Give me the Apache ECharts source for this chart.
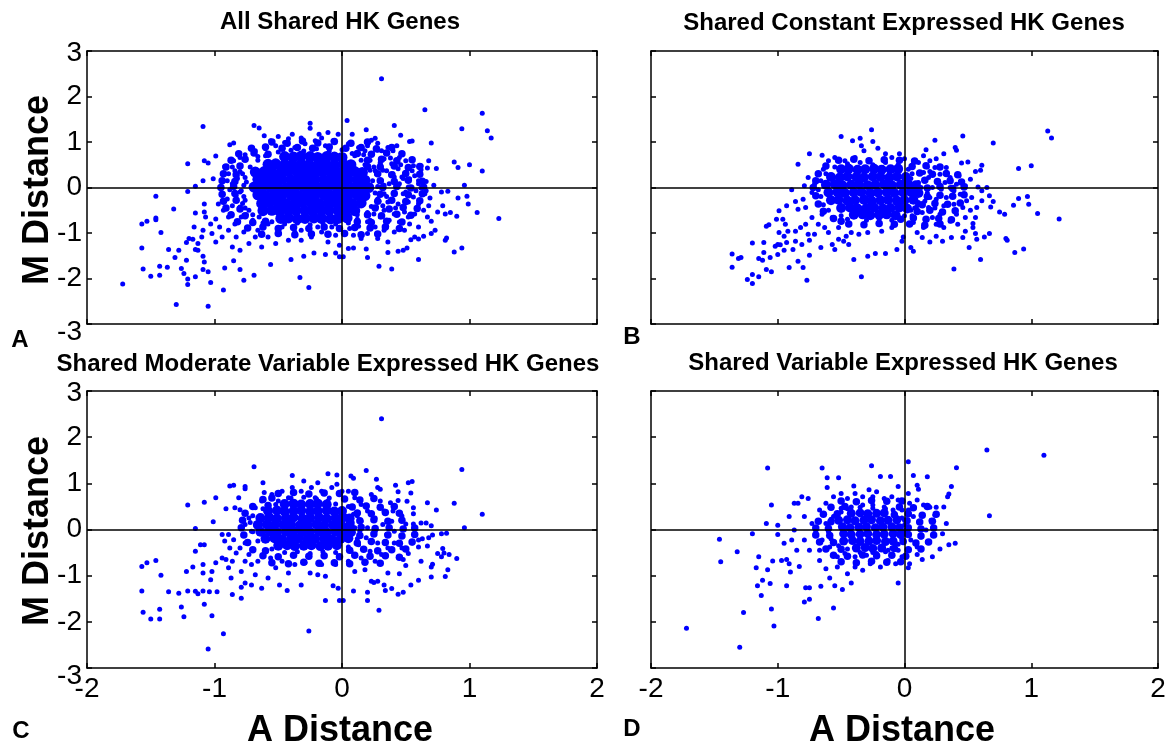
<!DOCTYPE html>
<html><head><meta charset="utf-8">
<script src="https://cdn.jsdelivr.net/npm/echarts@6/dist/echarts.min.js"></script>
<style>html,body{margin:0;padding:0;background:#fff}#c{width:1169px;height:750px}</style>
</head><body><div id="c"></div>
<script>
const panelTitles = ['All Shared HK Genes','Shared Constant Expressed HK Genes','Shared Moderate Variable Expressed HK Genes','Shared Variable Expressed HK Genes'];
const panelLetters = ['A','B','C','D'];
const xTicks = [-2,-1,0,1,2];
const xTickLabels = ['-2','-1','0','1','2'];
const yTicks = [-3,-2,-1,0,1,2,3];
const yTickLabels = ['-3','-2','-1','0','1','2','3'];
const xName = 'A Distance';
const yName = 'M Distance';

// solid core of each cloud (estimated)
const coreA = [[-0.45,0.68],[-0.38,0.67],[-0.32,0.69],[-0.25,0.68],[-0.19,0.66],[-0.12,0.68],[-0.06,0.67],[0.0,0.66],
[-0.58,0.51],[-0.52,0.52],[-0.45,0.5],[-0.39,0.51],[-0.32,0.52],[-0.26,0.5],[-0.19,0.51],[-0.13,0.52],[-0.06,0.5],[0.01,0.51],[0.07,0.5],
[-0.68,0.34],[-0.61,0.35],[-0.55,0.33],[-0.48,0.34],[-0.42,0.35],[-0.35,0.34],[-0.29,0.33],[-0.22,0.34],[-0.16,0.35],[-0.09,0.34],[-0.03,0.33],[0.04,0.34],[0.1,0.35],[0.16,0.33],
[-0.66,0.18],[-0.6,0.16],[-0.53,0.17],[-0.47,0.18],[-0.4,0.17],[-0.34,0.16],[-0.27,0.17],[-0.21,0.18],[-0.14,0.17],[-0.08,0.16],[-0.01,0.17],[0.05,0.18],[0.12,0.17],[0.18,0.16],
[-0.69,0.01],[-0.63,-0.01],[-0.56,0.0],[-0.5,0.01],[-0.43,0.0],[-0.37,-0.01],[-0.3,0.0],[-0.24,0.01],[-0.17,0.0],[-0.11,-0.01],[-0.04,0.0],[0.02,0.01],[0.09,0.0],[0.15,-0.01],[0.21,0.0],
[-0.66,-0.16],[-0.6,-0.18],[-0.53,-0.17],[-0.47,-0.16],[-0.4,-0.17],[-0.34,-0.18],[-0.27,-0.17],[-0.21,-0.16],[-0.14,-0.17],[-0.08,-0.18],[-0.01,-0.17],[0.05,-0.16],[0.12,-0.17],[0.18,-0.18],
[-0.63,-0.35],[-0.57,-0.33],[-0.5,-0.34],[-0.44,-0.35],[-0.37,-0.34],[-0.31,-0.33],[-0.24,-0.34],[-0.18,-0.35],[-0.11,-0.34],[-0.05,-0.33],[0.02,-0.34],[0.08,-0.35],[0.15,-0.34],
[-0.62,-0.51],[-0.55,-0.5],[-0.49,-0.52],[-0.42,-0.51],[-0.36,-0.5],[-0.29,-0.51],[-0.23,-0.52],[-0.16,-0.51],[-0.1,-0.5],[-0.03,-0.51],[0.03,-0.52],[0.1,-0.51],
[-0.48,-0.68],[-0.42,-0.67],[-0.35,-0.69],[-0.29,-0.68],[-0.22,-0.67],[-0.16,-0.68],[-0.09,-0.69],[-0.03,-0.68],[0.04,-0.67]];

// dense band around the core (estimated)
const midA = [[-0.55,1.0],[-0.43,0.97],[-0.31,1.02],[-0.19,0.98],[-0.06,1.01],[0.07,0.97],[0.2,1.0],
[-0.71,0.86],[-0.6,0.89],[-0.47,0.86],[-0.35,0.88],[-0.23,0.86],[-0.1,0.89],[0.03,0.86],[0.15,0.88],[0.27,0.85],[0.39,0.88],
[-0.81,0.74],[-0.69,0.76],[-0.58,0.73],[0.12,0.75],[0.23,0.73],[0.35,0.76],[0.47,0.74],
[-0.87,0.6],[-0.76,0.62],[0.2,0.6],[0.31,0.62],[0.43,0.59],[0.55,0.61],
[-0.91,0.45],[-0.8,0.47],[0.2,0.46],[0.3,0.45],[0.41,0.47],[0.52,0.44],[0.61,0.46],
[-0.93,0.3],[-0.83,0.28],[0.28,0.3],[0.39,0.28],[0.5,0.31],[0.61,0.29],
[-0.94,0.15],[-0.84,0.13],[0.3,0.15],[0.41,0.13],[0.52,0.16],[0.63,0.14],
[-0.95,0.0],[-0.85,0.02],[0.32,0.0],[0.43,0.02],[0.54,-0.01],[0.64,0.01],
[-0.94,-0.15],[-0.84,-0.13],[0.3,-0.15],[0.41,-0.13],[0.52,-0.16],[0.63,-0.14],
[-0.93,-0.3],[-0.83,-0.28],[0.28,-0.3],[0.39,-0.28],[0.5,-0.31],[0.61,-0.29],
[-0.91,-0.45],[-0.8,-0.47],[0.26,-0.45],[0.37,-0.47],[0.48,-0.44],[0.59,-0.46],
[-0.87,-0.6],[-0.76,-0.62],[0.2,-0.6],[0.31,-0.62],[0.43,-0.59],[0.54,-0.61],
[-0.82,-0.75],[-0.7,-0.77],[-0.6,-0.74],[0.12,-0.75],[0.23,-0.77],[0.35,-0.74],[0.47,-0.76],
[-0.74,-0.89],[-0.62,-0.87],[-0.5,-0.9],[-0.38,-0.88],[-0.26,-0.9],[-0.14,-0.87],[-0.02,-0.9],[0.1,-0.88],[0.22,-0.89],[0.34,-0.87],[0.45,-0.9],
[-0.63,-1.03],[-0.5,-1.01],[-0.37,-1.04],[-0.24,-1.02],[-0.11,-1.03],[0.02,-1.01],[0.15,-1.04],[0.28,-1.02]];

const ptsA = [[-1.09,1.34],[-1.21,0.52],[-1.08,0.59],[-1.05,0.54],[-0.99,0.69],[-1.46,-0.19],[-1.32,-0.47],[-1.21,-0.09],[-1.15,0.03],[-1.09,0.15],[-1.01,0.19],[-1.57,-0.8],[-1.53,-0.74],[-1.46,-0.67],[-1.46,-0.71],[-1.42,-0.99],[-1.57,-1.33],[-1.36,-1.36],[-1.37,-1.75],[-1.28,-1.38],[-1.31,-1.54],[-1.56,-1.79],[-1.5,-1.95],[-1.43,-1.93],[-1.43,-1.73],[-1.72,-2.12],[-1.3,-2.57],[-1.05,-2.61],[-1.26,-1.78],[-1.24,-1.89],[-1.21,-2.01],[-1.21,-2.13],[-1.22,-1.6],[-1.15,-1.36],[-1.15,-1.96],[-1.09,-1.8],[-1.09,-1.51],[-1.13,-1.38],[-1.08,-1.64],[-1.05,-1.85],[-1.03,-2.09],[-0.93,-2.25],
[-0.92,-1.77],[-0.85,-1.61],[-0.8,-1.8],[-0.77,-2.04],[-0.69,-1.93],[-0.56,-1.69],[-0.4,-1.58],[-0.33,-1.98],[-0.26,-2.2],[-0.3,-1.51],[-0.22,-1.44],[-0.13,-1.47],[-0.05,-1.44],[-0.02,-1.52],[-1.22,-1.21],[-1.2,-1.12],[-1.17,-1.14],[-1.16,-0.87],[-1.15,-0.56],[-1.08,-0.36],[-1.08,-0.54],[-1.13,-1.23],[-1.09,-0.94],[-0.88,0.94],[-0.85,0.98],[-0.69,1.36],[-0.65,1.31],[-0.5,1.12],[-0.39,1.17],[-0.25,1.41],[-0.25,1.3],[-0.11,1.21],[-0.03,1.17],[-0.18,1.17],[-0.32,1.09],[-0.61,1.14],
[-0.92,0.46],[-0.89,0.3],[-0.85,0.59],[-0.84,0.37],[-0.8,0.66],[-0.76,0.72],[-0.94,-0.14],[-0.9,-0.25],[-0.97,-0.36],[-0.93,-0.5],[-0.89,-0.65],[-0.99,-0.69],[-0.96,-0.87],[-1.02,-1.01],[-0.99,-1.2],[-0.94,-1.09],[-0.89,-0.94],[-0.84,-0.8],[-0.79,-0.65],[-0.83,-1.09],[-0.77,-0.98],[-0.86,-1.31],[-0.8,-1.38],[-0.73,-1.23],[-0.68,-1.09],[-0.63,-1.31],[-0.66,-0.94],[-0.58,-1.09],[-0.52,-1.23],[-0.49,-1.01],[-0.42,-1.16],[-0.37,-0.98],[-0.32,-1.16],[-0.24,-1.09],[-0.16,-0.98],[-0.11,-1.2],[-0.05,-1.05],[-0.02,-1.27],[-1.07,-0.65],[-1.03,-0.8],[-1.1,-1.09],[-0.79,-0.07],[-0.76,-0.28],[-0.8,-0.43],[-0.73,-0.5],[-0.72,0.45],[-0.75,0.12],[-0.68,0.81],[-0.6,0.85],[-0.52,0.92],[-0.45,0.99],[-0.37,0.88],[-0.29,0.96],[-0.21,1.03],[-0.13,0.92],[-0.07,1.03],[-0.56,1.03],[-0.42,1.07],[-0.16,1.09],[-0.66,0.68],[-0.32,-0.94],[-0.47,-0.87],[-0.19,-0.87],[-0.08,-0.87],[-0.58,-0.8],
[-0.82,0.2],[-0.86,0.08],[-0.78,0.3],[-0.88,-0.05],[-0.83,-0.18],[-0.78,-0.35],[-0.86,-0.4],[-0.75,-0.6],[-0.7,-0.72],[-0.62,-0.78],[-0.9,0.15],[-0.95,0.0],
[0.31,2.39],[0.65,1.71],[1.1,1.63],[1.14,1.25],[1.17,1.09],[0.94,1.29],[0.04,1.47],[0.19,1.27],[0.41,1.36],[0.46,1.15],[0.53,1.01],[0.55,1.02],[0.7,0.98],[0.08,1.17],[0.23,1.04],[0.26,1.08],[0.88,0.56],[0.91,0.44],[1.0,0.5],[1.1,0.36],[0.96,0.05],[0.74,0.42],[0.68,0.59],[0.62,0.48],[1.23,-0.68],[1.06,-0.55],[0.99,-0.36],[0.98,-0.19],[0.91,-0.23],[0.9,-0.63],[0.88,-1.42],[0.94,-1.33],[0.83,-0.08],[0.78,-0.1],[0.79,-0.4],[0.75,-0.54],[0.81,-0.58],[0.85,-0.55],[0.82,-1.11],[0.81,-1.16],[0.7,-0.74],[0.7,-1.01],[0.73,-0.94],[0.6,-1.58],[0.39,-1.79],[0.29,-1.73],[0.2,-1.54],[0.36,-1.43],[0.44,-1.4],[0.48,-1.38],[0.51,-1.33],[0.54,-1.15],[0.6,-1.13],[0.64,-1.07],[0.68,-0.4],[0.69,-0.23],[0.72,0.05],[0.66,0.13],[0.6,0.15],[0.62,-0.01],[0.57,0.26],[0.55,0.37],[0.62,0.39],[0.67,0.43],[0.48,0.2],[0.05,-1.34],[0.09,-1.33],[0.01,-1.52],[0.19,-1.35],
[0.05,0.96],[0.13,0.88],[0.2,0.92],[0.28,0.97],[0.31,0.81],[0.36,0.88],[0.4,0.81],[0.43,0.92],[0.45,0.66],[0.5,0.59],[0.56,0.48],[0.33,0.63],[0.39,0.52],[0.44,0.41],[0.49,0.3],[0.53,0.19],[0.41,0.23],[0.35,0.37],[0.3,0.52],[0.26,0.37],[0.31,0.15],[0.37,0.08],[0.45,0.08],[0.52,0.01],[0.58,-0.07],[0.65,-0.14],[0.56,-0.21],[0.48,-0.14],[0.41,-0.1],[0.33,-0.14],[0.28,-0.25],[0.36,-0.32],[0.44,-0.36],[0.52,-0.32],[0.6,-0.36],[0.64,-0.5],[0.57,-0.58],[0.49,-0.54],[0.41,-0.58],[0.33,-0.5],[0.27,-0.43],[0.3,-0.65],[0.37,-0.72],[0.45,-0.76],[0.53,-0.8],[0.6,-0.87],[0.49,-0.94],[0.41,-0.98],[0.33,-0.94],[0.26,-0.87],[0.2,-1.01],[0.15,-1.12],[0.28,-1.12],[0.36,-1.2],[0.09,-1.05],[0.57,-1.09],[0.67,-0.65],[0.22,-0.72],[0.18,0.81],[0.24,0.74],[0.1,0.7],[0.47,0.23],[0.6,0.08],[0.66,-0.07],
[0.22,0.6],[0.25,0.45],[0.27,0.3],[0.24,0.15],[0.28,0.02],[0.26,-0.12],[0.29,-0.3],[0.23,-0.42],[0.25,-0.58],[0.2,-0.75],[0.17,0.72],[0.3,0.55],[0.32,0.38],[0.33,0.05],[0.35,-0.2],[0.32,-0.4],[0.4,0.3],[0.42,-0.45],[0.38,0.65],[0.5,-0.1],[0.46,0.5],[0.52,-0.65],[0.28,0.82],[0.13,-0.85],[0.06,-0.9],[0.35,-0.85],
[-0.5,0.78],[-0.4,0.82],[-0.3,0.8],[-0.2,0.85],[-0.1,0.8],[0.0,0.83],[0.08,0.75],[-0.6,0.7],[-0.66,0.6],[-0.55,-0.75],[-0.45,-0.8],[-0.35,-0.78],[-0.25,-0.82],[-0.15,-0.78],[-0.05,-0.8],[0.05,-0.78],[0.12,-0.7],[-0.65,-0.65],[-0.8,0.35],[-0.76,0.22],[-0.77,0.05],[-0.8,-0.1],[-0.77,-0.2],[-0.76,-0.45],[-0.7,-0.6],[-0.86,0.45],[0.2,-0.55],[0.18,0.5],[0.22,0.38],[0.15,0.6],[0.12,-0.6]];

const coreB = [[-0.5,0.4],[-0.44,0.41],[-0.37,0.39],[-0.31,0.4],[-0.24,0.41],[-0.18,0.39],[-0.11,0.4],[-0.05,0.41],
[-0.58,0.23],[-0.51,0.22],[-0.45,0.24],[-0.38,0.23],[-0.32,0.22],[-0.25,0.24],[-0.19,0.23],[-0.12,0.22],[-0.06,0.24],[0.01,0.23],
[-0.62,0.06],[-0.55,0.07],[-0.49,0.05],[-0.42,0.06],[-0.36,0.07],[-0.29,0.05],[-0.23,0.06],[-0.16,0.07],[-0.1,0.05],[-0.03,0.06],[0.03,0.07],[0.09,0.05],
[-0.6,-0.11],[-0.53,-0.1],[-0.47,-0.12],[-0.4,-0.11],[-0.34,-0.1],[-0.27,-0.12],[-0.21,-0.11],[-0.14,-0.1],[-0.08,-0.12],[-0.01,-0.11],[0.05,-0.1],[0.11,-0.12],
[-0.58,-0.28],[-0.52,-0.27],[-0.45,-0.29],[-0.39,-0.28],[-0.32,-0.27],[-0.26,-0.29],[-0.19,-0.28],[-0.13,-0.27],[-0.06,-0.29],[0.0,-0.28],[0.07,-0.27],
[-0.5,-0.45],[-0.43,-0.44],[-0.37,-0.46],[-0.3,-0.45],[-0.24,-0.44],[-0.17,-0.46],[-0.11,-0.45],[-0.04,-0.44],[0.02,-0.46],
[-0.4,-0.6],[-0.33,-0.59],[-0.27,-0.61],[-0.2,-0.6],[-0.14,-0.59],[-0.07,-0.61]];

const midB = [[-0.52,0.6],[-0.4,0.62],[-0.28,0.59],[-0.16,0.61],[-0.04,0.6],[0.08,0.58],
[-0.62,0.47],[0.06,0.46],[0.17,0.48],[0.28,0.45],
[-0.68,0.3],[0.12,0.32],[0.22,0.29],[0.33,0.31],[0.42,0.28],
[-0.7,0.15],[0.16,0.16],[0.26,0.13],[0.36,0.15],[0.45,0.12],
[-0.72,0.0],[0.18,-0.01],[0.28,0.02],[0.38,-0.02],[0.47,0.01],
[-0.7,-0.18],[0.18,-0.2],[0.28,-0.17],[0.38,-0.19],[0.47,-0.16],
[-0.68,-0.36],[0.14,-0.38],[0.24,-0.35],[0.34,-0.37],[0.44,-0.34],
[-0.64,-0.52],[0.1,-0.53],[0.2,-0.5],[0.3,-0.54],[0.4,-0.51],
[-0.56,-0.68],[-0.5,-0.74],[-0.03,-0.7],[0.07,-0.67],[0.17,-0.7],[0.27,-0.68],[0.37,-0.71],
[-0.44,-0.8],[-0.32,-0.82],[-0.2,-0.79],[-0.08,-0.81],[0.04,-0.8],[0.16,-0.83],[0.28,-0.8]];

const ptsB = [[-0.26,1.27],[-0.5,1.12],[-0.41,1.03],[-0.35,1.08],[-0.34,0.92],[-0.25,1.01],[-0.21,0.86],[-0.32,0.81],[-0.75,0.74],[-0.65,0.71],[-0.84,0.51],[-0.89,-0.05],[-0.79,0.04],[-0.76,0.22],[-0.73,-0.11],[-0.8,-0.26],[-0.78,-0.44],[-0.86,-0.31],[-0.84,-0.48],[-0.93,-0.4],[-0.99,-0.51],[-0.96,-0.7],[-1.01,-0.7],[-1.07,-0.82],[-1.09,-0.85],[-0.94,-0.81],[-0.92,-0.96],[-0.99,-0.99],[-0.95,-1.07],[-1.0,-1.25],[-1.02,-1.29],[-0.98,-1.26],[-0.93,-1.21],[-0.86,-0.96],[-0.82,-0.88],[-0.78,-0.81],[-0.76,-1.03],[-0.81,-1.25],[-0.88,-1.36],[-0.86,-1.18],[-0.75,-1.16],[-0.71,-1.03],[-0.68,-0.81],[-0.63,-0.88],[-0.6,-0.99],[-0.66,-1.32],[-0.75,-1.49],[-0.84,-1.62],[-0.91,-1.76],[-0.8,-1.76],[-0.77,-2.04],[-1.2,-1.22],[-1.11,-1.21],[-1.11,-1.43],[-1.15,-1.56],[-1.12,-1.6],[-1.36,-1.46],[-1.31,-1.56],[-1.29,-1.54],[-1.36,-1.75],[-1.24,-2.02],[-1.2,-1.91],[-1.2,-2.11],[-1.15,-1.96],[-1.09,-1.8],[-1.05,-1.85],[-1.06,-1.54],[-1.0,-1.47],[-0.95,-1.38],[-0.57,-1.25],[-0.55,-1.36],[-0.52,-1.14],[-0.48,-1.18],[-0.46,-1.07],[-0.44,-1.25],[-0.4,-1.58],[-0.34,-1.96],[-0.29,-1.51],[-0.23,-1.45],[-0.15,-1.45],[-0.06,-1.36],[-0.02,-1.18],[-0.01,-1.09],[-0.52,-0.88],[-0.42,-0.99],[-0.36,-1.03],[-0.29,-0.99],[-0.18,-0.96],[-0.1,-0.88],[-0.6,0.59],[-0.55,0.66],[-0.47,0.59],[-0.39,0.66],[-0.15,0.74],[-0.1,0.66],[-0.04,0.74],[0.0,0.63],[-0.68,0.29],[-0.71,0.07],[-0.64,0.4],[-0.68,-0.37],[-0.65,-0.59],[-0.73,-0.66],[-0.57,-0.66],
[1.13,1.24],[1.16,1.09],[0.7,0.98],[0.46,1.13],[0.24,1.04],[0.4,0.88],[0.41,0.82],[0.31,0.74],[0.17,0.83],[0.15,0.7],[0.11,0.55],[0.45,0.54],[0.5,0.56],[0.61,0.49],[0.6,0.38],[0.56,0.35],[0.9,0.42],[1.0,0.48],[0.52,0.18],[0.58,0.01],[0.65,0.0],[0.61,-0.07],[0.67,-0.18],[0.61,-0.29],[0.7,-0.31],[0.68,-0.43],[0.75,-0.54],[0.79,-0.59],[0.86,-0.39],[0.9,-0.24],[0.97,-0.2],[0.98,-0.37],[1.05,-0.57],[1.22,-0.69],[0.8,-1.12],[0.81,-1.16],[0.87,-1.43],[0.94,-1.35],[0.6,-1.58],[0.39,-1.79],[0.51,-1.32],[0.57,-1.14],[0.63,-1.09],[0.67,-1.01],[0.56,-1.01],[0.54,-0.79],[0.54,-0.88],[0.48,-0.96],[0.46,-1.1],[0.37,-1.1],[0.3,-1.18],[0.2,-1.2],[0.07,-1.4],[0.05,-1.32],[0.14,-1.1],[0.25,-1.07],[0.42,-0.81],[0.48,-0.66],[0.52,-0.5],[0.46,-0.44],[0.49,-0.29],[0.44,-0.15],[0.39,-0.07],[0.33,-0.22],[0.39,-0.37],[0.41,-0.59],[0.36,-0.74],[0.31,-0.88],[0.25,-0.81],[0.28,-0.59],[0.31,-0.4],[0.25,-0.26],[0.29,-0.04],[0.32,0.11],[0.36,0.22],[0.28,0.29],[0.24,0.44],[0.2,0.59],[0.25,0.63],[0.19,0.22],[0.22,0.0],[0.2,-0.22],[0.19,-0.44],[0.22,-0.66],[0.15,-0.88],[0.1,-0.99],[0.43,0.26],[0.48,0.04],[0.53,-0.22],[0.57,-0.44],[0.56,-0.66],[0.15,0.33],[0.11,0.11],[0.12,-0.11],[0.11,-0.33],[0.14,-0.55],[0.07,-0.77],[0.07,0.59],[0.33,0.44],[0.27,0.11],[0.36,0.0],[0.41,0.07],
[0.05,0.2],[0.08,-0.45],[0.18,0.45],[0.16,-0.3],[0.24,-0.45],[0.2,0.35],[0.06,-0.62],[0.13,0.0],[0.18,-0.12],
[-0.55,0.45],[-0.45,0.52],[-0.35,0.55],[-0.25,0.5],[-0.15,0.55],[-0.05,0.5],[0.03,0.4],[0.06,0.3],[-0.5,-0.62],[-0.45,-0.7],[-0.3,-0.72],[-0.2,-0.7],[-0.1,-0.72],[0.0,-0.62],[0.05,-0.5],[0.1,-0.4],[-0.66,0.15],[-0.68,-0.05],[-0.66,-0.2],[-0.64,-0.38],[-0.6,-0.5],[-0.62,0.3]];

const coreC = [[-0.45,0.55],[-0.38,0.56],[-0.32,0.54],[-0.25,0.55],[-0.19,0.56],[-0.12,0.54],
[-0.58,0.4],[-0.51,0.41],[-0.45,0.39],[-0.38,0.4],[-0.32,0.41],[-0.25,0.39],[-0.19,0.4],[-0.12,0.41],[-0.06,0.39],[0.0,0.4],
[-0.64,0.25],[-0.57,0.26],[-0.51,0.24],[-0.44,0.25],[-0.38,0.26],[-0.31,0.24],[-0.25,0.25],[-0.18,0.26],[-0.12,0.24],[-0.05,0.25],[0.01,0.26],[0.06,0.24],
[-0.66,0.1],[-0.59,0.11],[-0.53,0.09],[-0.46,0.1],[-0.4,0.11],[-0.33,0.09],[-0.27,0.1],[-0.2,0.11],[-0.14,0.09],[-0.07,0.1],[-0.01,0.11],[0.06,0.09],
[-0.64,-0.05],[-0.57,-0.04],[-0.51,-0.06],[-0.44,-0.05],[-0.38,-0.04],[-0.31,-0.06],[-0.25,-0.05],[-0.18,-0.04],[-0.12,-0.06],[-0.05,-0.05],[0.01,-0.04],[0.07,-0.06],
[-0.6,-0.2],[-0.53,-0.19],[-0.47,-0.21],[-0.4,-0.2],[-0.34,-0.19],[-0.27,-0.21],[-0.21,-0.2],[-0.14,-0.19],[-0.08,-0.21],[-0.01,-0.2],[0.05,-0.19],
[-0.5,-0.35],[-0.43,-0.34],[-0.37,-0.36],[-0.3,-0.35],[-0.24,-0.34],[-0.17,-0.36],[-0.11,-0.35],[-0.04,-0.34]];

const midC = [[-0.5,0.78],[-0.38,0.8],[-0.26,0.77],[-0.14,0.79],[-0.02,0.78],[0.1,0.8],
[-0.62,0.65],[-0.55,0.68],[0.02,0.66],[0.14,0.64],[0.25,0.67],
[-0.7,0.5],[-0.58,0.52],[0.08,0.49],[0.19,0.51],[0.3,0.48],[0.41,0.5],
[-0.76,0.35],[0.12,0.36],[0.23,0.34],[0.34,0.37],[0.45,0.35],
[-0.78,0.2],[0.14,0.19],[0.25,0.21],[0.36,0.18],[0.47,0.2],
[-0.79,0.04],[0.15,0.05],[0.26,0.02],[0.37,0.04],[0.48,0.01],[0.57,0.03],
[-0.77,-0.12],[0.14,-0.13],[0.25,-0.1],[0.36,-0.12],[0.47,-0.14],[0.57,-0.11],
[-0.74,-0.28],[0.12,-0.29],[0.23,-0.26],[0.34,-0.28],[0.45,-0.3],[0.55,-0.27],
[-0.7,-0.44],[-0.6,-0.46],[0.06,-0.45],[0.17,-0.43],[0.28,-0.46],[0.39,-0.44],[0.5,-0.42],
[-0.62,-0.57],[-0.5,-0.59],[-0.38,-0.56],[-0.26,-0.58],[-0.14,-0.57],[-0.02,-0.59],[0.1,-0.56],[0.22,-0.58],[0.34,-0.57],[0.45,-0.6],
[-0.55,-0.72],[-0.42,-0.74],[-0.3,-0.71],[-0.18,-0.73],[-0.06,-0.72],[0.06,-0.74],[0.18,-0.71],[0.3,-0.73]];

const ptsC = [[-0.69,1.36],[-1.21,0.53],[-1.08,0.59],[-0.99,0.69],[-0.88,0.94],[-0.85,0.96],[-0.76,0.93],[-0.76,0.88],[-0.62,1.01],[-0.61,0.8],[-0.39,1.17],[-0.3,1.05],[-0.19,1.01],[-0.11,1.21],[-0.04,1.18],[-0.04,0.98],[-1.01,0.17],[-1.15,0.02],[-0.91,0.45],[-0.81,0.69],[-0.84,0.47],[-0.8,0.43],[-1.57,-0.8],[-1.53,-0.72],[-1.46,-0.67],[-1.42,-0.99],[-1.57,-1.33],[-1.36,-1.35],[-1.28,-1.38],[-1.21,-1.33],[-1.15,-1.34],[-1.13,-1.39],[-1.09,-1.33],[-1.04,-1.35],[-0.98,-1.35],[-1.26,-1.68],[-1.24,-1.89],[-1.56,-1.79],[-1.5,-1.94],[-1.43,-1.94],[-1.43,-1.73],[-1.08,-1.62],[-1.02,-1.87],[-0.93,-2.26],[-1.05,-2.59],[-0.26,-2.2],[-0.13,-1.54],[-0.02,-1.54],[-0.03,-1.27],[-1.22,-0.91],[-1.17,-0.81],[-1.15,-0.47],[-1.11,-0.33],[-1.08,-0.33],[-1.09,-0.76],[-1.09,-0.94],[-1.03,-1.09],[-1.02,-0.91],[-0.99,-0.72],[-0.94,-0.62],[-0.91,-0.65],[-0.89,-0.83],[-0.86,-0.69],[-0.87,-1.05],[-0.86,-1.41],[-0.79,-1.49],[-0.79,-1.25],[-0.76,-1.16],[-0.71,-1.2],[-0.63,-1.27],[-0.68,-0.98],[-0.71,-0.76],[-0.76,-0.69],[-0.79,-0.91],[-0.83,-0.51],[-0.88,-0.4],[-0.92,-0.25],[-0.94,-0.11],[-0.89,-0.11],[-0.85,-0.22],[-0.8,-0.4],[-0.76,-0.29],[-0.73,-0.54],[-0.66,-0.69],[-0.58,-1.05],[-0.49,-1.2],[-0.43,-1.32],[-0.32,-1.2],[-0.25,-0.94],[-0.19,-0.98],[-0.13,-1.01],[-0.07,-1.22],[-0.42,-0.94],[-0.52,-0.83],[-0.37,-0.76],[-0.29,-0.72],[-0.16,-0.76],[-0.05,-0.76],[-0.47,-0.69],[-0.56,-0.62],[-0.76,0.11],[-0.71,-0.04],[-0.73,0.25],[-0.68,0.47],[-0.63,0.62],[-0.55,0.76],[-0.47,0.83],[-0.39,0.91],[-0.32,0.83],[-0.24,0.91],[-0.16,0.83],[-0.08,0.91],[0.0,0.83],[-0.42,0.69],[-0.21,0.69],[-0.52,0.54],[-0.11,0.62],
[0.31,2.4],[0.94,1.3],[1.1,0.33],[0.96,0.04],[0.88,0.57],[0.74,0.42],[0.67,0.58],[0.19,1.28],[0.07,1.16],[0.09,1.11],[0.27,1.09],[0.28,0.91],[0.3,0.87],[0.42,0.96],[0.52,1.01],[0.55,1.04],[0.54,0.79],[0.51,0.61],[0.56,0.47],[0.56,0.34],[0.44,0.82],[0.44,0.63],[0.38,0.58],[0.4,0.4],[0.47,0.29],[0.5,0.12],[0.56,0.12],[0.62,0.14],[0.66,0.14],[0.7,0.08],[0.78,-0.09],[0.82,-0.08],[0.71,-0.12],[0.68,-0.18],[0.63,-0.2],[0.6,-0.23],[0.55,-0.29],[0.6,-0.38],[0.67,-0.36],[0.79,-0.41],[0.8,-0.51],[0.84,-0.54],[0.9,-0.63],[0.75,-0.52],[0.78,-0.59],[0.62,-0.69],[0.71,-0.75],[0.7,-0.81],[0.83,-0.87],[0.7,-1.03],[0.81,-1.02],[0.6,-1.1],[0.54,-1.2],[0.48,-1.36],[0.44,-1.4],[0.39,-1.28],[0.34,-1.32],[0.29,-1.75],[0.2,-1.54],[0.2,-1.36],[0.09,-1.33],[0.01,-1.54],[0.33,-1.2],[0.25,-1.15],[0.23,-1.12],[0.28,-1.12],[0.36,-0.94],[0.45,-0.96],[0.5,-0.78],[0.48,-0.65],[0.52,-0.52],[0.47,-0.4],[0.41,-0.29],[0.36,-0.4],[0.31,-0.54],[0.26,-0.69],[0.18,-0.87],[0.1,-0.91],[0.15,-0.62],[0.22,-0.47],[0.28,-0.29],[0.35,-0.11],[0.41,-0.04],[0.26,-0.04],[0.19,-0.18],[0.13,-0.33],[0.07,-0.47],[0.05,-0.69],[0.32,0.11],[0.26,0.25],[0.2,0.4],[0.15,0.54],[0.1,0.69],[0.05,0.83],[0.33,0.4],[0.39,0.18],[0.3,0.62],[0.23,0.76],[0.15,0.18],[0.1,0.04],[0.09,0.33],[0.2,0.04],[0.14,-0.04],
[-0.5,0.62],[-0.4,0.68],[-0.3,0.7],[-0.2,0.66],[-0.1,0.68],[-0.05,0.55],[0.05,0.5],[-0.55,-0.42],[-0.45,-0.5],[-0.35,-0.48],[-0.25,-0.52],[-0.15,-0.48],[-0.05,-0.5],[0.05,-0.38],[-0.7,0.3],[-0.72,0.15],[-0.7,-0.05],[-0.66,-0.25],[-0.62,0.45],[0.12,0.3],[0.12,-0.2],[0.08,0.15]];

const coreD = [[-0.42,0.35],[-0.35,0.36],[-0.29,0.34],[-0.22,0.35],[-0.16,0.36],
[-0.52,0.2],[-0.45,0.21],[-0.39,0.19],[-0.32,0.2],[-0.26,0.21],[-0.19,0.19],[-0.13,0.2],[-0.06,0.21],
[-0.49,0.06],[-0.43,0.04],[-0.36,0.05],[-0.3,0.06],[-0.23,0.04],[-0.17,0.05],[-0.1,0.06],[-0.04,0.04],
[-0.48,-0.09],[-0.42,-0.11],[-0.35,-0.1],[-0.29,-0.09],[-0.22,-0.11],[-0.16,-0.1],[-0.09,-0.09],[-0.03,-0.11],
[-0.48,-0.25],[-0.41,-0.24],[-0.35,-0.26],[-0.28,-0.25],[-0.22,-0.24],[-0.15,-0.26],[-0.09,-0.25],
[-0.38,-0.4],[-0.31,-0.39],[-0.25,-0.41],[-0.18,-0.4]];

const midD = [[-0.5,0.62],[-0.38,0.6],[-0.26,0.63],[-0.14,0.61],[-0.02,0.62],
[-0.58,0.48],[-0.47,0.5],[-0.04,0.49],[0.07,0.47],[0.18,0.5],
[-0.64,0.33],[-0.53,0.34],[-0.08,0.32],[0.03,0.34],[0.14,0.31],[0.25,0.33],
[-0.68,0.18],[-0.58,0.17],[0.02,0.19],[0.12,0.16],[0.22,0.18],
[-0.7,0.03],[-0.6,0.02],[0.03,0.04],[0.13,0.01],[0.23,0.03],
[-0.7,-0.12],[-0.59,-0.13],[0.03,-0.11],[0.13,-0.14],[0.23,-0.12],
[-0.67,-0.27],[-0.56,-0.28],[-0.01,-0.26],[0.09,-0.29],[0.19,-0.27],
[-0.62,-0.42],[-0.5,-0.43],[-0.08,-0.41],[0.03,-0.44],[0.13,-0.42],
[-0.56,-0.56],[-0.45,-0.58],[-0.33,-0.55],[-0.22,-0.57],[-0.1,-0.56],[0.01,-0.58],
[-0.5,-0.7],[-0.38,-0.72],[-0.26,-0.69],[-0.14,-0.71],[-0.03,-0.7]];

const ptsD = [[-1.72,-2.14],[-1.3,-2.55],[-1.03,-2.09],[-1.27,-1.8],[-1.05,-1.72],[-0.68,-1.93],[-0.56,-1.7],[-1.13,-1.43],[-1.16,-1.22],[-1.12,-1.1],[-1.06,-1.17],[-0.93,-1.22],[-0.79,-1.57],[-0.75,-1.51],[-0.78,-1.26],[-0.75,-1.26],[-0.66,-1.23],[-0.59,-1.05],[-0.55,-1.22],[-0.49,-1.3],[-0.42,-1.16],[-0.05,-1.16],[-1.46,-0.21],[-1.45,-0.7],[-1.32,-0.48],[-1.2,-0.09],[-1.15,-0.59],[-1.17,-0.83],[-1.08,-0.87],[-1.08,1.33],[-1.05,0.53],[-1.09,0.13],[-1.0,0.09],[-1.0,-0.11],[-1.04,-0.68],[-0.97,-0.67],[-0.93,-0.65],[-0.91,-0.74],[-0.9,-0.92],[-0.83,-0.8],[-0.95,-0.3],[-0.89,-0.23],[-0.91,0.28],[-0.87,0.57],[-0.84,0.57],[-0.81,0.71],[-0.76,0.67],[-0.65,1.33],[-0.61,1.12],[-0.52,1.12],[-0.26,1.38],[-0.19,1.15],[-0.11,1.15],[-0.4,0.94],[-0.28,0.86],[-0.22,0.82],[-0.61,0.91],[-0.05,0.93],[0.03,1.47],[0.07,1.17],[0.18,1.14],[0.1,0.96],[0.11,0.87],[0.03,0.78],[0.41,1.34],[0.37,0.93],[0.35,0.77],[0.34,0.71],[0.65,1.72],[1.1,1.61],[0.67,0.3],[0.4,-0.3],[0.35,-0.33],[0.28,-0.42],[0.3,-0.09],[0.33,0.13],[0.31,0.49],[0.25,0.48],[0.2,0.48],[0.15,0.53],[0.21,0.2],[0.24,0.31],[0.17,-0.01],[0.13,-0.16],[0.18,-0.27],[0.22,-0.59],[0.14,-0.65],[0.1,-0.54],[0.04,-0.74],[0.03,-0.83],[0.1,-0.38],[0.05,-0.23],[0.07,0.28],[0.03,0.42],[0.1,0.64],[0.04,0.57],
[-0.79,0.28],[-0.73,0.13],[-0.7,-0.05],[-0.79,-0.23],[-0.75,-0.45],[-0.67,-0.67],[-0.62,-0.85],[-0.53,-0.81],[-0.45,-0.96],[-0.39,-0.81],[-0.33,-0.88],[-0.27,-0.74],[-0.19,-0.81],[-0.13,-0.67],[-0.07,-0.74],[-0.02,-0.59],[-0.67,0.42],[-0.62,0.57],[-0.56,0.71],[-0.5,0.78],[-0.45,0.67],[-0.39,0.78],[-0.33,0.71],[-0.25,0.71],[-0.16,0.67],[-0.1,0.71],[-0.05,0.64],[-0.02,0.42],[0.0,0.2],[0.01,-0.01],[-0.02,-0.23],[-0.05,-0.45],[-0.85,-0.45],[-0.87,-0.01],[-0.65,-0.23],[-0.67,-0.45],[-0.62,0.13],[-0.59,-0.38],[-0.53,-0.59],[-0.47,-0.52],[-0.39,-0.59],[-0.3,-0.56],[-0.22,-0.52],[-0.13,-0.45],[-0.07,-0.3],[-0.06,-0.09],[-0.07,0.2],[-0.09,0.42],[-0.16,0.49],[-0.25,0.53],[-0.33,0.53],[-0.42,0.49],[-0.5,0.46],[-0.56,0.28],
[-0.55,0.3],[-0.5,0.38],[-0.45,0.45],[-0.35,0.48],[-0.25,0.46],[-0.15,0.45],[-0.08,0.35],[-0.02,0.25],[0.0,0.1],[-0.01,-0.05],[-0.02,-0.2],[-0.05,-0.32],[-0.1,-0.4],[-0.15,-0.48],[-0.25,-0.5],[-0.35,-0.5],[-0.45,-0.42],[-0.52,-0.35],[-0.58,-0.2],[-0.6,-0.05],[-0.6,0.12],[-0.58,0.22]];

const panels = [[coreA, midA, ptsA],[coreB, midB, ptsB],[coreC, midC, ptsC],[coreD, midD, ptsD]];

const grids = [
  {left:87, top:51, width:510, height:273},
  {left:651, top:51, width:507, height:273},
  {left:87, top:391, width:510, height:277},
  {left:651, top:391, width:507, height:277}
];
const showX = [false,false,true,true];
const showY = [true,false,true,false];
const coreSize = [11,10,10,9];
const FONT = 'Liberation Sans, Arial, Helvetica, sans-serif';
const BLUE = '#0000ff';

function yFmt(v){
  const s = yTickLabels[yTicks.indexOf(Math.round(v))];
  if (Math.round(v) === yTicks[0]) return '{lo|' + s + '}';
  if (Math.round(v) === yTicks[yTicks.length-1]) return '{hi|' + s + '}';
  return s;
}

const xAxis = [], yAxis = [], series = [];
grids.forEach((g,i)=>{
  const line = {show:true, onZero:false, lineStyle:{color:'#000', width:1.5}};
  const tick = {show:true, inside:true, length:5, lineStyle:{color:'#000', width:1.5}};
  ['bottom','top'].forEach((pos,k)=>{
    xAxis.push({gridIndex:i, type:'value', position:pos, min:xTicks[0], max:xTicks[xTicks.length-1], interval:1,
      axisLine:line, axisTick:tick, splitLine:{show:false},
      axisLabel:{show: k===0 && showX[i], color:'#000', fontSize:28, margin:7, fontFamily:FONT,
        formatter: v => xTickLabels[xTicks.indexOf(Math.round(v))]}});
  });
  ['left','right'].forEach((pos,k)=>{
    yAxis.push({gridIndex:i, type:'value', position:pos, min:yTicks[0], max:yTicks[yTicks.length-1], interval:1,
      axisLine:line, axisTick:tick, splitLine:{show:false},
      axisLabel:{show: k===0 && showY[i], color:'#000', fontSize:28, margin:5, fontFamily:FONT, formatter: yFmt,
        rich:{lo:{fontSize:28, color:'#000', fontFamily:FONT, padding:[16,0,0,0]},
              hi:{fontSize:28, color:'#000', fontFamily:FONT, padding:[5,0,0,0]}}}});
  });
  series.push({type:'scatter', xAxisIndex:2*i, yAxisIndex:2*i, data:panels[i][0], symbol:'circle',
    symbolSize:coreSize[i], itemStyle:{color:BLUE, opacity:1}, silent:true, animation:false});
  series.push({type:'scatter', xAxisIndex:2*i, yAxisIndex:2*i, data:panels[i][1], symbol:'circle',
    symbolSize:7.5, itemStyle:{color:BLUE, opacity:1}, silent:true, animation:false});
  series.push({type:'scatter', xAxisIndex:2*i, yAxisIndex:2*i, data:panels[i][2], symbol:'circle',
    symbolSize:5, itemStyle:{color:BLUE, opacity:1}, silent:true, animation:false,
    markLine:{silent:true, symbol:['none','none'], label:{show:false}, animation:false, z:10,
      lineStyle:{color:'#000', width:1.5, type:'solid'}, emphasis:{disabled:true},
      data:[{xAxis:0},{yAxis:0}]}});
});

const txt = (x,y,text,size,extra) => Object.assign({type:'text', x:x, y:y, silent:true,
  style:{text:text, fontSize:size, fontWeight:'bold', fontFamily:FONT, fill:'#000', align:'center', verticalAlign:'middle'}}, extra||{});
const graphic = [
  txt(340,22,panelTitles[0],24), txt(904,23,panelTitles[1],24),
  txt(328,364,panelTitles[2],24), txt(903,363,panelTitles[3],24),
  txt(38,190,yName,36,{rotation:Math.PI/2}), txt(38,531,yName,36,{rotation:Math.PI/2}),
  txt(340,731,xName,36), txt(902,731,xName,36),
  txt(20,340,panelLetters[0],24), txt(632,337,panelLetters[1],24),
  txt(21,731,panelLetters[2],24), txt(632,729,panelLetters[3],24)
];

const chart = echarts.init(document.getElementById('c'), null, {renderer:'canvas'});
chart.setOption({animation:false, backgroundColor:'#fff', textStyle:{fontFamily:FONT},
  grid:grids, xAxis:xAxis, yAxis:yAxis, series:series, graphic:graphic});
</script>
</body></html>
